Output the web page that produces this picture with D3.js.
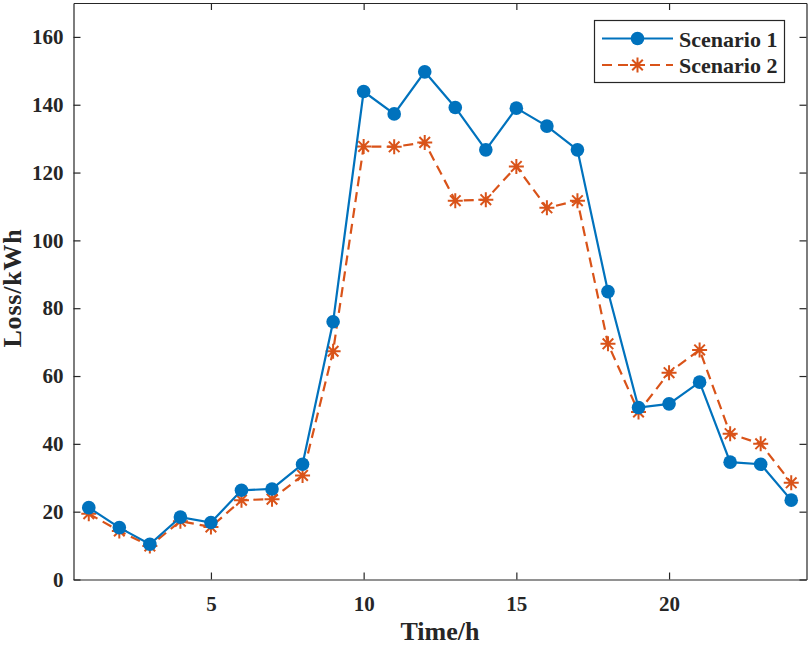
<!DOCTYPE html>
<html>
<head>
<meta charset="utf-8">
<script src="https://cdn.jsdelivr.net/npm/d3@7"></script>
<style>
  body { margin: 0; background: #fff; }
  svg { display: block; }
  text { font-family: "Liberation Serif", "Times New Roman", serif; font-weight: bold; fill: #262626; }
</style>
</head>
<body>
<div id="chart"></div>
<script>
// hours 1..24
var hours = d3.range(1, 25);
var scenario1 = [21.2, 15.3, 10.4, 18.4, 16.8, 26.3, 26.7, 34.0, 76.0, 143.9, 137.3, 149.7,
                 139.2, 126.7, 139.0, 133.7, 126.7, 84.9, 50.7, 51.8, 58.2, 34.6, 34.0, 23.4];
var scenario2 = [19.4, 14.3, 9.9, 17.2, 15.5, 23.4, 23.7, 30.7, 67.3, 127.7, 127.6, 128.9,
                 111.7, 112.0, 121.8, 109.6, 111.7, 69.5, 49.4, 61.0, 67.7, 43.0, 40.0, 28.5];
var xTicks = [5, 10, 15, 20];
var yTicks = [0, 20, 40, 60, 80, 100, 120, 140, 160];
var seriesNames = ["Scenario 1", "Scenario 2"];

var width = 809, height = 645;
var plotLeft = 73.5, plotRight = 806.5, plotTop = 3, plotBottom = 579.5;
var blue = "#0072BD", orange = "#D95319";

var svg = d3.select("#chart").append("svg")
  .attr("width", width)
  .attr("height", height);

var x = d3.scaleLinear().domain([0.5, 24.5]).range([plotLeft, plotRight]);
var y = d3.scaleLinear().domain([0, 170]).range([plotBottom, plotTop]);

// axes (ticks inside, mirrored on top/right)
function styleAxis(g) {
  g.selectAll("path.domain").attr("stroke", "#262626").attr("stroke-width", 1.2);
  g.selectAll(".tick line").attr("stroke", "#262626").attr("stroke-width", 1.2);
}

var xAxis = svg.append("g")
  .attr("transform", "translate(0," + plotBottom + ")")
  .call(d3.axisBottom(x).tickValues(xTicks).tickSizeInner(-7).tickSizeOuter(0).tickPadding(17))
  .call(styleAxis);
xAxis.selectAll(".tick text").attr("font-size", 21).attr("fill", "#262626")
  .attr("font-family", "Liberation Serif").attr("font-weight", "bold");

svg.append("g")
  .attr("transform", "translate(0," + plotTop + ")")
  .call(d3.axisTop(x).tickValues(xTicks).tickSizeInner(-7).tickSizeOuter(0).tickFormat(""))
  .call(styleAxis);

var yAxis = svg.append("g")
  .attr("transform", "translate(" + plotLeft + ",0)")
  .call(d3.axisLeft(y).tickValues(yTicks).tickSizeInner(-7).tickSizeOuter(0).tickPadding(10))
  .call(styleAxis);
yAxis.selectAll(".tick text").attr("font-size", 21).attr("fill", "#262626")
  .attr("font-family", "Liberation Serif").attr("font-weight", "bold");

svg.append("g")
  .attr("transform", "translate(" + plotRight + ",0)")
  .call(d3.axisRight(y).tickValues(yTicks).tickSizeInner(-7).tickSizeOuter(0).tickFormat(""))
  .call(styleAxis);

// axis labels
svg.append("text")
  .attr("x", (plotLeft + plotRight) / 2)
  .attr("y", 640)
  .attr("text-anchor", "middle")
  .attr("font-size", 26)
  .text("Time/h");

svg.append("text")
  .attr("transform", "translate(21,288) rotate(-90)")
  .attr("text-anchor", "middle")
  .attr("font-size", 26)
  .attr("letter-spacing", 0.8)
  .text("Loss/kWh");

// asterisk marker path
function asterisk(r) {
  var d = "";
  var a = r * Math.SQRT1_2;
  d += "M" + (-r) + ",0L" + r + ",0";
  d += "M0," + (-r) + "L0," + r;
  d += "M" + (-a) + "," + (-a) + "L" + a + "," + a;
  d += "M" + (-a) + "," + a + "L" + a + "," + (-a);
  return d;
}

var line = d3.line()
  .x(function (d, i) { return x(hours[i]); })
  .y(function (d) { return y(d); });

// scenario 2 (dashed, asterisks)
svg.append("path")
  .datum(scenario2)
  .attr("d", line)
  .attr("fill", "none")
  .attr("stroke", orange)
  .attr("stroke-width", 2.2)
  .attr("stroke-dasharray", "10,6");

svg.append("g").selectAll("path")
  .data(scenario2)
  .enter().append("path")
  .attr("transform", function (d, i) { return "translate(" + x(hours[i]) + "," + y(d) + ")"; })
  .attr("d", asterisk(7.5))
  .attr("stroke", orange)
  .attr("stroke-width", 2);

// scenario 1 (solid, circles)
svg.append("path")
  .datum(scenario1)
  .attr("d", line)
  .attr("fill", "none")
  .attr("stroke", blue)
  .attr("stroke-width", 2.2);

svg.append("g").selectAll("circle")
  .data(scenario1)
  .enter().append("circle")
  .attr("cx", function (d, i) { return x(hours[i]); })
  .attr("cy", function (d) { return y(d); })
  .attr("r", 6.8)
  .attr("fill", blue);

// legend
var legend = svg.append("g");
legend.append("rect")
  .attr("x", 594.5).attr("y", 20.5)
  .attr("width", 190).attr("height", 62)
  .attr("fill", "#fff")
  .attr("stroke", "#262626")
  .attr("stroke-width", 1.2);

var rows = [38.5, 65];
legend.append("line")
  .attr("x1", 602).attr("x2", 673).attr("y1", rows[0]).attr("y2", rows[0])
  .attr("stroke", blue).attr("stroke-width", 2.2);
legend.append("circle")
  .attr("cx", 637.5).attr("cy", rows[0]).attr("r", 6.8).attr("fill", blue);
legend.append("line")
  .attr("x1", 602).attr("x2", 673).attr("y1", rows[1]).attr("y2", rows[1])
  .attr("stroke", orange).attr("stroke-width", 2.2).attr("stroke-dasharray", "10,6");
legend.append("path")
  .attr("transform", "translate(637.5," + rows[1] + ")")
  .attr("d", asterisk(7.5))
  .attr("stroke", orange).attr("stroke-width", 2);

legend.selectAll("text.lbl")
  .data(seriesNames)
  .enter().append("text")
  .attr("class", "lbl")
  .attr("x", 679)
  .attr("y", function (d, i) { return rows[i] + 8; })
  .attr("font-size", 22)
  .text(function (d) { return d; });
</script>
</body>
</html>
